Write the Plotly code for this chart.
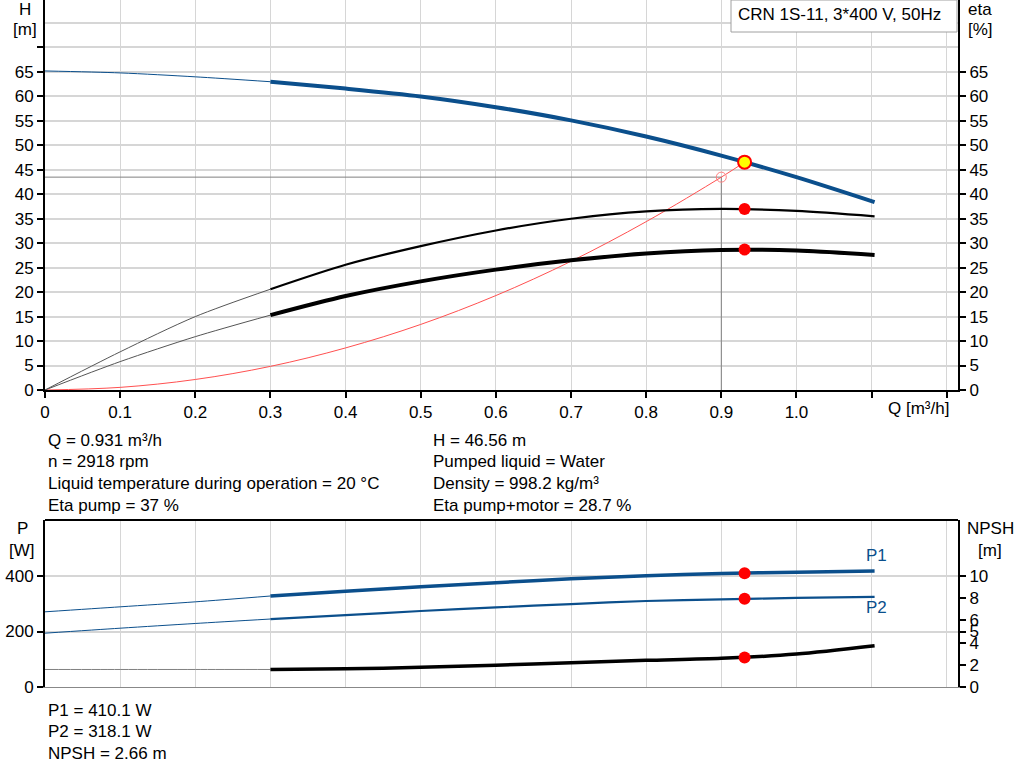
import plotly.graph_objects as go

# flow points (m3/h)
q = [0, 0.1, 0.2, 0.3, 0.4, 0.5, 0.6, 0.7, 0.8, 0.9, 1.0, 1.104]
head = [65.2, 64.8, 64.0, 63.0, 61.6, 60.0, 57.8, 55.1, 51.8, 47.9, 43.5, 38.4]
eta_pump = [0, 7.8, 15.0, 20.6, 25.6, 29.4, 32.6, 35.0, 36.5, 37.0, 36.6, 35.5]
eta_total = [0, 5.8, 10.9, 15.3, 19.2, 22.2, 24.6, 26.5, 27.9, 28.6, 28.5, 27.6]
p1 = [271, 289, 307, 328, 345, 361, 376, 390, 401, 409, 414, 418]
p2 = [194, 212, 229, 245, 259, 274, 287, 299, 310, 316, 321, 325]
npsh = [1.58, 1.58, 1.58, 1.58, 1.64, 1.77, 1.96, 2.18, 2.40, 2.58, 2.97, 3.72]

# curve through origin and duty point
q_sys = [0, 0.1, 0.2, 0.3, 0.4, 0.5, 0.6, 0.7, 0.8, 0.9, 0.931]
h_sys = [0, 0.54, 2.15, 4.83, 8.6, 13.4, 19.3, 26.3, 34.4, 43.5, 46.56]

# duty point
q_duty = 0.931
h_duty = 46.56
eta_pump_duty = 37
eta_total_duty = 28.7
p1_duty = 410.1
p2_duty = 318.1
npsh_duty = 2.66
q_req, h_req = 0.9, 43.5

x_ticks = [0, 0.1, 0.2, 0.3, 0.4, 0.5, 0.6, 0.7, 0.8, 0.9, 1.0, 1.1, 1.2]
x_labels = ['0', '0.1', '0.2', '0.3', '0.4', '0.5', '0.6', '0.7', '0.8', '0.9', '1.0', '', '']
h_ticks = [0, 5, 10, 15, 20, 25, 30, 35, 40, 45, 50, 55, 60, 65, 70]
h_labels = [str(v) for v in h_ticks[:-1]] + ['']
p_ticks = [0, 200, 400]
npsh_ticks = [0, 2, 4, 5, 6, 8, 10]

info_left = ['Q = 0.931 m³/h', 'n = 2918 rpm',
             'Liquid temperature during operation = 20 °C', 'Eta pump = 37 %']
info_right = ['H = 46.56 m', 'Pumped liquid = Water',
              'Density = 998.2 kg/m³', 'Eta pump+motor = 28.7 %']
info_bottom = ['P1 = 410.1 W', 'P2 = 318.1 W', 'NPSH = 2.66 m']

BLUE = '#0b4f8c'
GRID = '#d6d6d6'
FONT = 'Liberation Sans, Arial, sans-serif'
FS = 17

W, H = 1024, 781
L, R, T, B = 45, 66, 0, 94
pw, ph = W - L - R, H - T - B


def px(x):
    return (x - L) / pw


def py(y):
    return (H - B - y) / ph


cut = q.index(0.3)
fig = go.Figure()


def curve(y, yaxis, xaxis, color, thick, thin_color=None):
    fig.add_trace(go.Scatter(x=q[:cut + 1], y=y[:cut + 1], mode='lines', xaxis=xaxis, yaxis=yaxis,
                             line=dict(color=thin_color or color, width=1, shape='spline', smoothing=0.8),
                             hoverinfo='skip'))
    fig.add_trace(go.Scatter(x=q[cut:], y=y[cut:], mode='lines', xaxis=xaxis, yaxis=yaxis,
                             line=dict(color=color, width=thick, shape='spline', smoothing=0.8),
                             hoverinfo='skip'))


# upper chart
fig.add_trace(go.Scatter(x=[0, q_req, q_req], y=[h_req, h_req, 0], mode='lines',
                         line=dict(color='#808080', width=1), hoverinfo='skip'))
curve(head, 'y', 'x', BLUE, 4)
curve(eta_pump, 'y2', 'x', 'black', 2.2, '#555555')
curve(eta_total, 'y2', 'x', 'black', 4, '#555555')
fig.add_trace(go.Scatter(x=q_sys, y=h_sys, mode='lines', line=dict(color='#ff5050', width=1, shape='spline'),
                         hoverinfo='skip'))
fig.add_trace(go.Scatter(x=[q_req], y=[h_req], mode='markers',
                         marker=dict(size=10, color='rgba(0,0,0,0)', line=dict(color='#ff8080', width=1)),
                         hoverinfo='skip'))
fig.add_trace(go.Scatter(x=[q_duty, q_duty], y=[eta_pump_duty, eta_total_duty], mode='markers', yaxis='y2',
                         marker=dict(size=12, color='#ff0000'), hoverinfo='skip'))
fig.add_trace(go.Scatter(x=[q_duty], y=[h_duty], mode='markers',
                         marker=dict(size=13, color='#ffff00', line=dict(color='#ff0000', width=2)),
                         hoverinfo='skip'))

# lower chart
curve(p1, 'y3', 'x2', BLUE, 3.5)
curve(p2, 'y3', 'x2', BLUE, 2.2)
curve(npsh, 'y4', 'x2', 'black', 3.5, '#808080')
fig.add_trace(go.Scatter(x=[q_duty, q_duty], y=[p1_duty, p2_duty], mode='markers', xaxis='x2', yaxis='y3',
                         marker=dict(size=12, color='#ff0000'), hoverinfo='skip'))
fig.add_trace(go.Scatter(x=[q_duty], y=[npsh_duty], mode='markers', xaxis='x2', yaxis='y4',
                         marker=dict(size=12, color='#ff0000'), hoverinfo='skip'))

tick_font = dict(family=FONT, size=FS, color='black')
xcommon = dict(range=[0, 1.215], tickvals=x_ticks, showgrid=True, gridcolor=GRID, gridwidth=1,
               zeroline=False, tickfont=tick_font)
top_dom = [py(390), 1]
bot_dom = [0, py(520)]

fig.update_layout(
    width=W, height=H, showlegend=False,
    paper_bgcolor='white', plot_bgcolor='white',
    margin=dict(l=L, r=R, t=T, b=B),
    font=dict(family=FONT, size=FS, color='black'),
    xaxis=dict(xcommon, anchor='y', ticktext=x_labels, showline=True, linecolor='black', linewidth=2,
               ticks='outside', ticklen=6, tickcolor='black', tickwidth=2),
    yaxis=dict(domain=top_dom, range=[0, 79.7], tickvals=h_ticks, ticktext=h_labels,
               showgrid=True, gridcolor=GRID, gridwidth=2, zeroline=False,
               showline=True, linecolor='black', linewidth=2, ticks='outside', ticklen=6,
               tickcolor='black', tickwidth=2, tickfont=tick_font,
               minor=dict(tickvals=[75], showgrid=True, gridcolor=GRID, gridwidth=2, ticks='')),
    yaxis2=dict(overlaying='y', side='right', range=[0, 79.7], tickvals=h_ticks[:-1],
                showgrid=False, zeroline=False, showline=True, linecolor='black', linewidth=2,
                ticks='outside', ticklen=6, tickcolor='black', tickwidth=2, tickfont=tick_font),
    xaxis2=dict(xcommon, anchor='y3', showticklabels=False, ticks='', showline=True,
                linecolor='#888888', linewidth=1),
    yaxis3=dict(domain=bot_dom, range=[0, 602], tickvals=p_ticks, showgrid=True, gridcolor=GRID, gridwidth=2,
                zeroline=False, showline=True, linecolor='black', linewidth=2, ticks='outside', ticklen=6,
                tickcolor='black', tickwidth=2, tickfont=tick_font),
    yaxis4=dict(overlaying='y3', side='right', range=[0, 15.05], tickvals=npsh_ticks, showgrid=False,
                zeroline=False, showline=True, linecolor='black', linewidth=2, ticks='outside', ticklen=6,
                tickcolor='black', tickwidth=2, tickfont=tick_font),
)

# top border of lower chart and the pump box
fig.add_shape(type='line', xref='paper', yref='paper', x0=0, x1=1, y0=py(520), y1=py(520),
              line=dict(color='black', width=2))
fig.add_shape(type='rect', xref='paper', yref='paper', x0=px(731), x1=px(957), y0=py(32), y1=py(0),
              line=dict(color='#a0a0a0', width=1), fillcolor='white', layer='above')


def label(text, x, y, anchor='left', color='black'):
    fig.add_annotation(text=text, xref='paper', yref='paper', x=px(x), y=py(y), xanchor=anchor,
                       yanchor='middle', showarrow=False, font=dict(size=FS, color=color, family=FONT))


label('CRN 1S-11, 3*400 V, 50Hz', 736, 14)
label('H', 25, 10, 'center')
label('[m]', 25, 30, 'center')
label('eta', 980, 10, 'center')
label('[%]', 980, 30, 'center')
label('Q [m³/h]', 886, 408)
label('P', 22, 528, 'center')
label('[W]', 22, 550, 'center')
label('NPSH', 990, 528, 'center')
label('[m]', 990, 550, 'center')
label('P1', 876, 555, 'center', BLUE)
label('P2', 876, 607, 'center', BLUE)
for i, t in enumerate(info_left):
    label(t, 46, 440 + i * 21.7)
for i, t in enumerate(info_right):
    label(t, 431, 440 + i * 21.7)
for i, t in enumerate(info_bottom):
    label(t, 46, 710 + i * 21.5)

# page has a default body margin; drop it so the figure sits at the corner
fig.write_html("out.html", config={'displayModeBar': False},
               post_script="document.body.style.margin='0';")
